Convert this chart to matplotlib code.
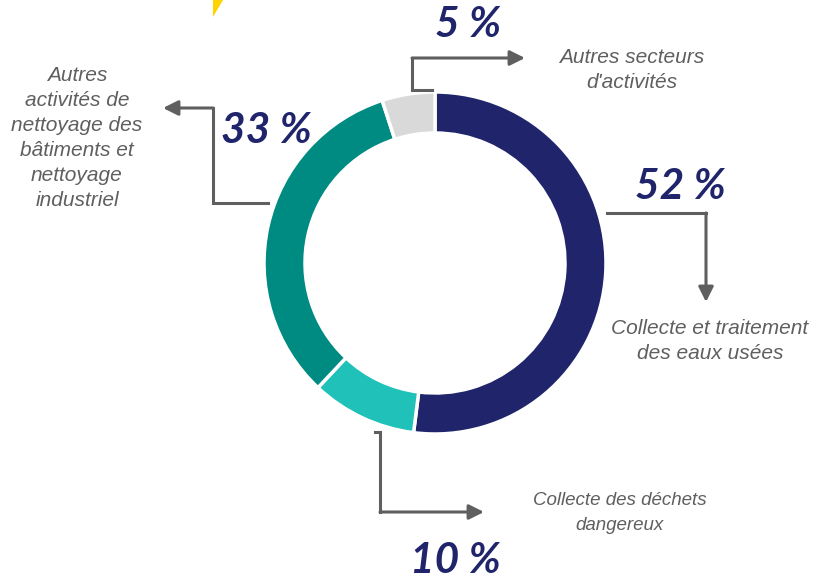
import matplotlib.pyplot as plt
from matplotlib.patches import Polygon

# data
shares = [52, 10, 33, 5]
pct_labels = ['52 %', '10 %', '33 %', '5 %']
colors = ['#1F246B', '#20C1B8', '#008B82', '#D9D9D9']
names = ['Collecte et traitement\ndes eaux usées',
         'Collecte des déchets\ndangereux',
         'Autres\nactivités de\nnettoyage des\nbâtiments et\nnettoyage\nindustriel',
         "Autres secteurs\nd'activités"]

W, H = 817, 580
fig = plt.figure(figsize=(W / 100, H / 100), dpi=100)
ax = fig.add_axes([0, 0, 1, 1])


def Y(y):
    # image coordinates (top-down) -> data coordinates
    return H - y


cx, cy, r = 435, 263, 171
ax.pie(shares, colors=colors, radius=r, center=(cx, Y(cy)), startangle=90,
       counterclock=False, frame=True,
       wedgeprops=dict(width=41, edgecolor='white', linewidth=2.5))
ax.set_xlim(0, W)
ax.set_ylim(0, H)
ax.set_aspect('equal')
ax.axis('off')

# small yellow decoration in the corner
ax.add_patch(Polygon([(213, Y(0)), (223, Y(0)), (213, Y(17))], closed=True,
                     color='#FFD200', lw=0))

gray = '#5F5F5F'
pct_font = dict(family='Lato', fontweight='bold', fontstyle='italic',
                fontsize=30.5, color='#1F246B', ha='center', va='center')
lbl_font = dict(family='Liberation Sans', fontstyle='italic',
                color=gray, ha='center', va='center')

# leader arrows (image coords)
paths = [
    [(607, 213), (706, 213), (706, 302)],
    [(375, 432), (380, 432), (380, 512), (484, 512)],
    [(268, 203), (213, 203), (213, 108), (163, 108)],
    [(432, 90), (412, 90), (412, 58), (525, 58)],
]
for pts in paths:
    xs = [p[0] for p in pts[:-1]]
    ys = [Y(p[1]) for p in pts[:-1]]
    ax.plot(xs, ys, color=gray, lw=2.2, solid_joinstyle='miter')
    ax.annotate('', xy=(pts[-1][0], Y(pts[-1][1])),
                xytext=(pts[-2][0], Y(pts[-2][1])),
                arrowprops=dict(arrowstyle='-|>,head_length=0.9,head_width=0.45',
                                color=gray, lw=2.2, shrinkA=0, shrinkB=0))

pct_pos = [(680, 187), (455, 561), (266, 131), (468, 25)]
lbl_pos = [(710, 341), (620, 513), (77, 138), (632, 70)]
lbl_size = [15, 13.5, 15, 15]
lbl_spacing = [1.4, 1.55, 1.4, 1.4]
for t, (x, y) in zip(pct_labels, pct_pos):
    ax.text(x, Y(y), t, **pct_font)
for t, (x, y), s, ls in zip(names, lbl_pos, lbl_size, lbl_spacing):
    ax.text(x, Y(y), t, fontsize=s, linespacing=ls, **lbl_font)

fig.savefig('out.png', dpi=100)
